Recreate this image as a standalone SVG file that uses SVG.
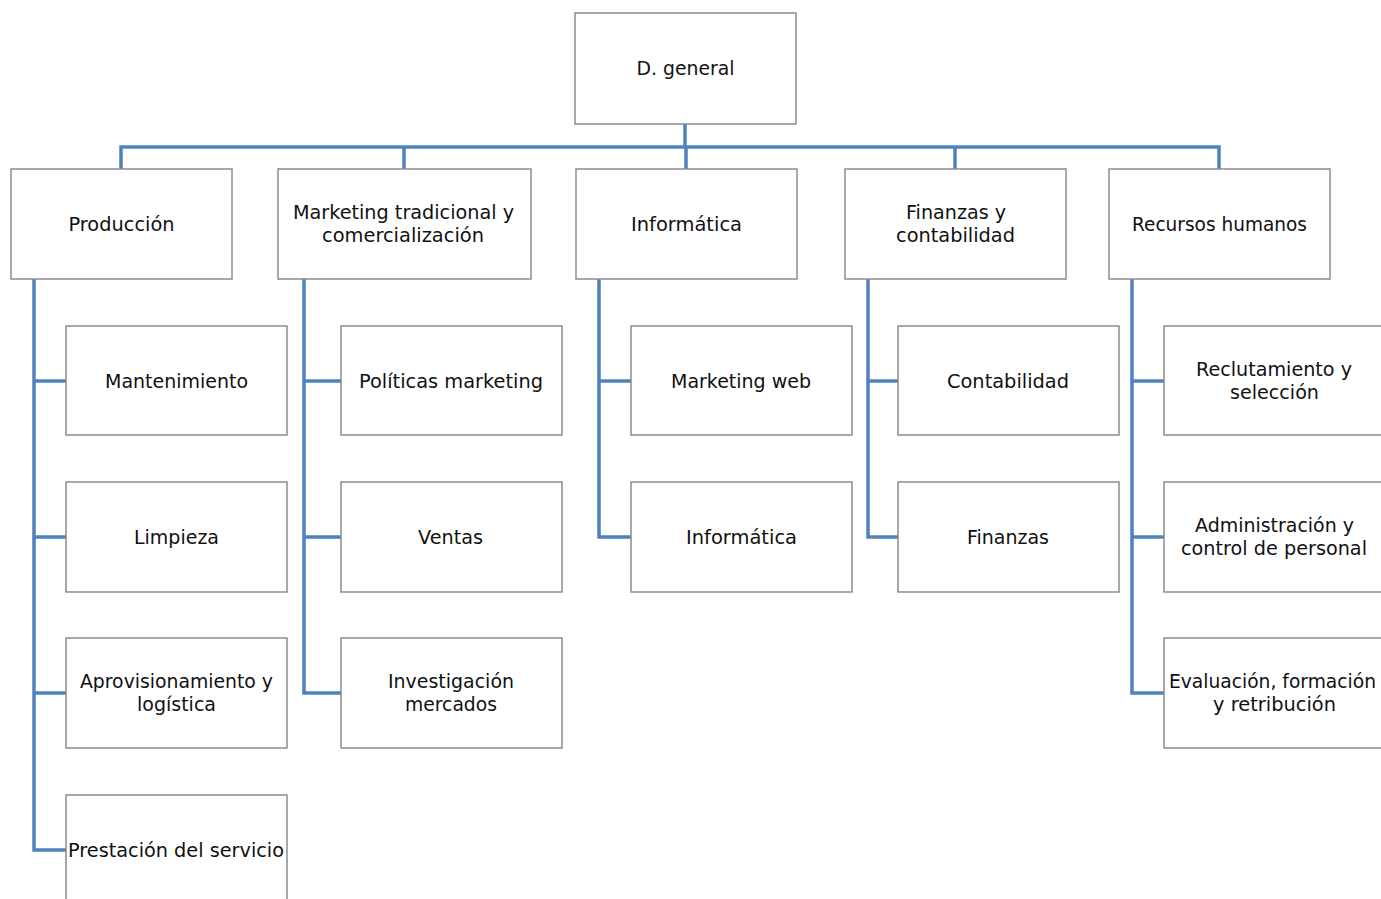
<svg xmlns="http://www.w3.org/2000/svg" width="1381" height="899" viewBox="0 0 1381 899">
  <style>
    .box rect { fill: #ffffff; stroke: #8c8c8c; stroke-width: 1.5; }
    .box text { font-family: "DejaVu Sans", "Liberation Sans", sans-serif; font-size: 19.5px; fill: #111111; text-anchor: middle; }
    .wire { fill: none; stroke: #4f81bd; stroke-width: 3.5; }
  </style>
  <rect width="1381" height="899" fill="#ffffff"/>

  <!-- connectors -->
  <g id="connectors" class="wire">
    <path d="M685 124 V147 M121 169 V147 H1219 V169 M404 147 V169 M686 147 V169 M955 147 V169"/>
    <path d="M34 279 V850 H66 M34 381 H66 M34 537 H66 M34 693 H66"/>
    <path d="M304 279 V693 H341 M304 381 H341 M304 537 H341"/>
    <path d="M599 279 V537 H631 M599 381 H631"/>
    <path d="M868 279 V537 H898 M868 381 H898"/>
    <path d="M1132 279 V693 H1164 M1132 381 H1164 M1132 537 H1164"/>
  </g>

  <!-- top -->
  <g id="d-general" class="box"><rect x="575" y="13" width="221" height="111"/><text x="685.5" y="75" textLength="98" lengthAdjust="spacingAndGlyphs">D. general</text></g>

  <!-- departments -->
  <g id="produccion" class="box"><rect x="11" y="169" width="221" height="110"/><text x="121.5" y="231" textLength="106" lengthAdjust="spacingAndGlyphs">Producción</text></g>
  <g id="marketing" class="box"><rect x="278" y="169" width="253" height="110"/><text x="403.5" y="219" textLength="221" lengthAdjust="spacingAndGlyphs">Marketing tradicional y</text><text x="403" y="242" textLength="162" lengthAdjust="spacingAndGlyphs">comercialización</text></g>
  <g id="informatica" class="box"><rect x="576" y="169" width="221" height="110"/><text x="686.5" y="231" textLength="111" lengthAdjust="spacingAndGlyphs">Informática</text></g>
  <g id="finanzas-contabilidad" class="box"><rect x="845" y="169" width="221" height="110"/><text x="956" y="219" textLength="100" lengthAdjust="spacingAndGlyphs">Finanzas y</text><text x="955.5" y="242" textLength="119" lengthAdjust="spacingAndGlyphs">contabilidad</text></g>
  <g id="recursos-humanos" class="box"><rect x="1109" y="169" width="221" height="110"/><text x="1219.5" y="231" textLength="175" lengthAdjust="spacingAndGlyphs">Recursos humanos</text></g>

  <!-- Producción -->
  <g id="mantenimiento" class="box"><rect x="66" y="326" width="221" height="109"/><text x="176.5" y="388" textLength="143" lengthAdjust="spacingAndGlyphs">Mantenimiento</text></g>
  <g id="limpieza" class="box"><rect x="66" y="482" width="221" height="110"/><text x="176.5" y="544" textLength="85" lengthAdjust="spacingAndGlyphs">Limpieza</text></g>
  <g id="aprovisionamiento" class="box"><rect x="66" y="638" width="221" height="110"/><text x="176.5" y="688" textLength="193" lengthAdjust="spacingAndGlyphs">Aprovisionamiento y</text><text x="176.5" y="711" textLength="79" lengthAdjust="spacingAndGlyphs">logística</text></g>
  <g id="prestacion" class="box"><rect x="66" y="795" width="221" height="112"/><text x="176" y="857" textLength="216" lengthAdjust="spacingAndGlyphs">Prestación del servicio</text></g>

  <!-- Marketing -->
  <g id="politicas-marketing" class="box"><rect x="341" y="326" width="221" height="109"/><text x="451" y="388" textLength="184" lengthAdjust="spacingAndGlyphs">Políticas marketing</text></g>
  <g id="ventas" class="box"><rect x="341" y="482" width="221" height="110"/><text x="450.5" y="544" textLength="65" lengthAdjust="spacingAndGlyphs">Ventas</text></g>
  <g id="investigacion-mercados" class="box"><rect x="341" y="638" width="221" height="110"/><text x="451" y="688" textLength="126" lengthAdjust="spacingAndGlyphs">Investigación</text><text x="451" y="711" textLength="92" lengthAdjust="spacingAndGlyphs">mercados</text></g>

  <!-- Informática -->
  <g id="marketing-web" class="box"><rect x="631" y="326" width="221" height="109"/><text x="741" y="388" textLength="140" lengthAdjust="spacingAndGlyphs">Marketing web</text></g>
  <g id="informatica-2" class="box"><rect x="631" y="482" width="221" height="110"/><text x="741.5" y="544" textLength="111" lengthAdjust="spacingAndGlyphs">Informática</text></g>

  <!-- Finanzas y contabilidad -->
  <g id="contabilidad" class="box"><rect x="898" y="326" width="221" height="109"/><text x="1008" y="388" textLength="122" lengthAdjust="spacingAndGlyphs">Contabilidad</text></g>
  <g id="finanzas" class="box"><rect x="898" y="482" width="221" height="110"/><text x="1008" y="544" textLength="82" lengthAdjust="spacingAndGlyphs">Finanzas</text></g>

  <!-- Recursos humanos -->
  <g id="reclutamiento" class="box"><rect x="1164" y="326" width="221" height="109"/><text x="1274" y="376" textLength="156" lengthAdjust="spacingAndGlyphs">Reclutamiento y</text><text x="1274.5" y="399" textLength="89" lengthAdjust="spacingAndGlyphs">selección</text></g>
  <g id="administracion" class="box"><rect x="1164" y="482" width="221" height="110"/><text x="1274.5" y="532" textLength="159" lengthAdjust="spacingAndGlyphs">Administración y</text><text x="1274" y="555" textLength="186" lengthAdjust="spacingAndGlyphs">control de personal</text></g>
  <g id="evaluacion" class="box"><rect x="1164" y="638" width="221" height="110"/><text x="1272.5" y="688" textLength="207" lengthAdjust="spacingAndGlyphs">Evaluación, formación</text><text x="1274.5" y="711" textLength="123" lengthAdjust="spacingAndGlyphs">y retribución</text></g>
</svg>
